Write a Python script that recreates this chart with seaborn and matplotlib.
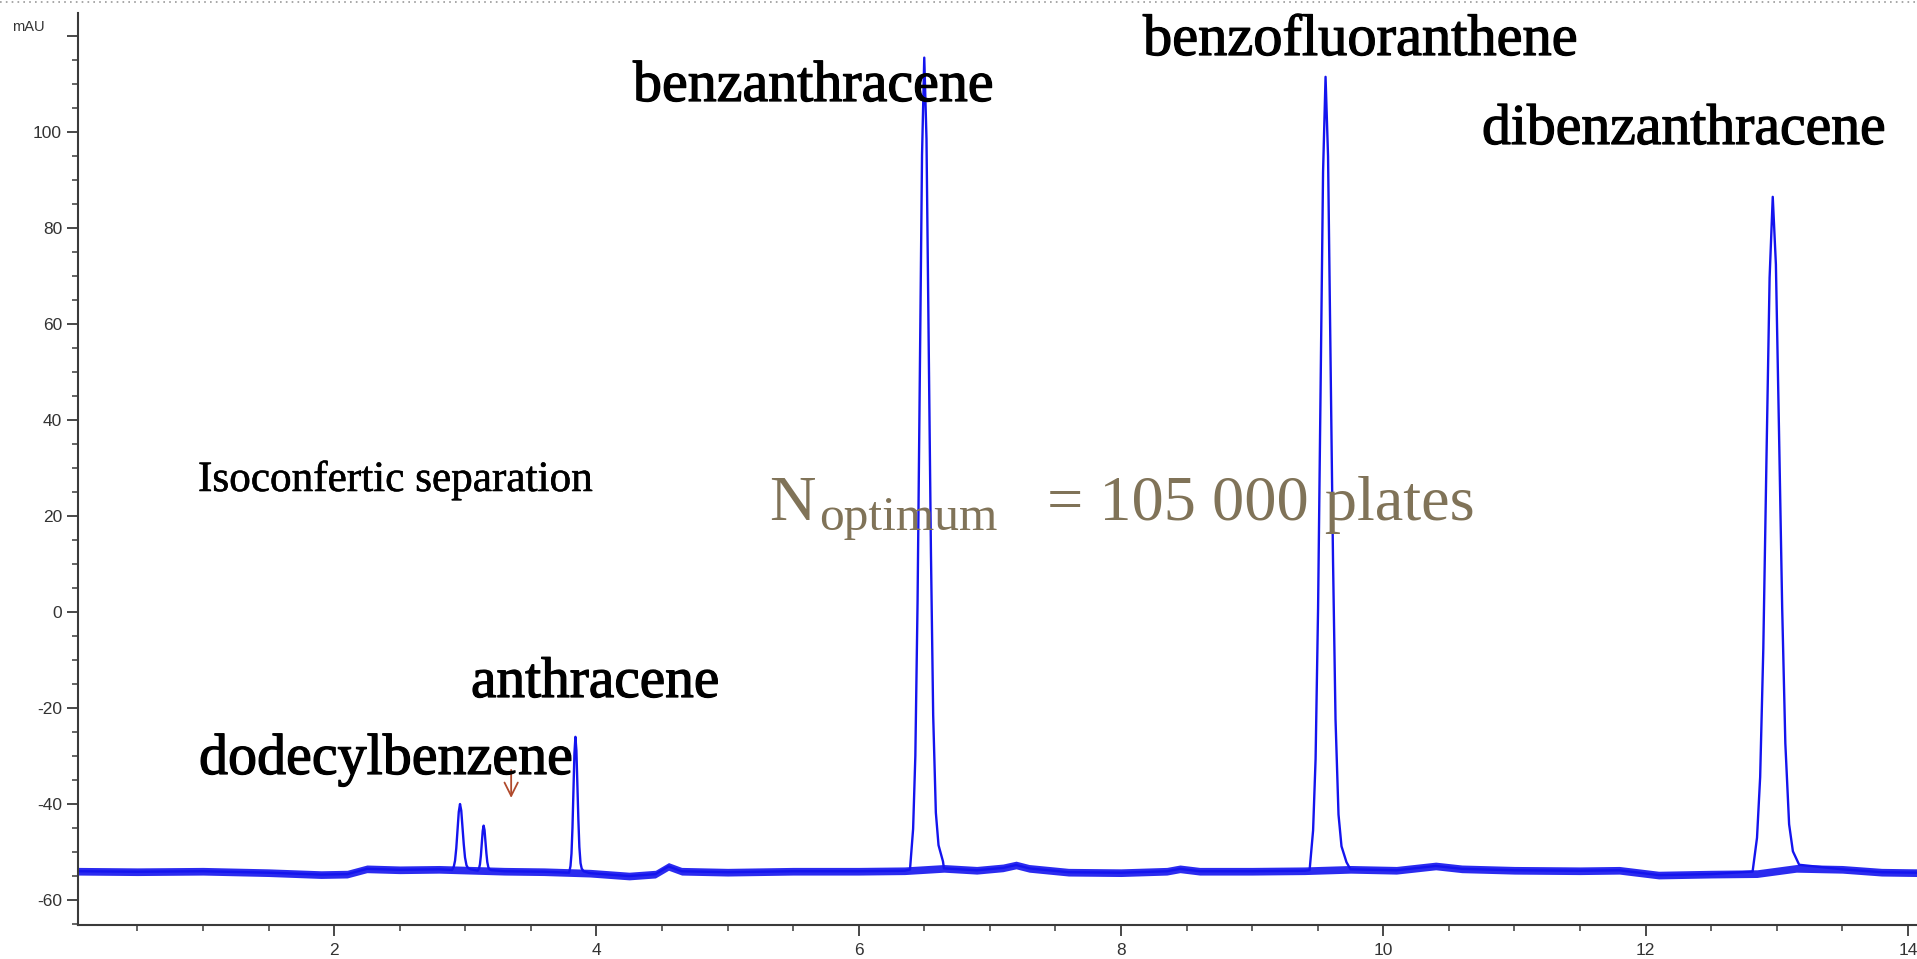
import numpy as np
import pandas as pd
import matplotlib
matplotlib.use("Agg")
import matplotlib.pyplot as plt
import matplotlib.patheffects as pe
from matplotlib.lines import Line2D
from matplotlib.ticker import MultipleLocator
import seaborn as sns

# ---- chromatogram data (retention time in min, signal in mAU) ----
peak_rt = [2.96, 3.14, 3.84, 6.50, 9.56, 12.97]
peak_apex = [-40.0, -44.5, -26.0, 115.5, 111.5, 86.5]
peak_sigma = [0.019, 0.014, 0.015, 0.034, 0.038, 0.048]

# tabulated peak profile (offset in sigma units, fraction of peak height), slight tailing
profile_offset = [-3.2, -2.5, -2.0, -1.5, -1.0, -0.5, 0.0, 0.5, 1.0, 1.5, 2.0, 2.6, 3.2, 4.2]
profile_frac = [0.0, 0.05, 0.14, 0.33, 0.61, 0.88, 1.0, 0.90, 0.65, 0.39, 0.19, 0.07, 0.03, 0.01]

# detector baseline
base_t = [0.05, 0.5, 1.0, 1.5, 1.9, 2.1, 2.25, 2.5, 2.8, 3.3, 3.6, 3.95, 4.25, 4.45,
          4.55, 4.65, 5.0, 5.5, 6.0, 6.35, 6.65, 6.9, 7.1, 7.2, 7.3, 7.6, 8.0, 8.35,
          8.45, 8.6, 9.0, 9.4, 9.75, 10.1, 10.4, 10.6, 11.0, 11.5, 11.8, 12.1, 12.5,
          12.85, 13.15, 13.5, 13.8, 14.07]
base_y = [-54.0, -54.1, -54.0, -54.3, -54.7, -54.6, -53.5, -53.7, -53.6, -54.0, -54.1,
          -54.4, -55.0, -54.6, -53.0, -54.0, -54.2, -54.0, -54.0, -53.9, -53.4, -53.8,
          -53.3, -52.7, -53.4, -54.2, -54.3, -54.0, -53.5, -54.0, -54.0, -53.9, -53.6,
          -53.8, -52.9, -53.5, -53.8, -53.9, -53.8, -54.8, -54.6, -54.5, -53.4, -53.6,
          -54.2, -54.3]

x_ticks = [2, 4, 6, 8, 10, 12, 14]
y_ticks = [-60, -40, -20, 0, 20, 40, 60, 80, 100, 120]
y_tick_labels = ["-60", "-40", "-20", "0", "20", "40", "60", "80", "100", ""]

# ---- assemble the trace ----
bt = np.array(base_t)
by = np.array(base_y)
keep = np.ones(len(bt), dtype=bool)
for rt, sg in zip(peak_rt, peak_sigma):
    keep &= ~((bt > rt - 3.3 * sg) & (bt < rt + 4.3 * sg))
t_all = list(bt[keep])
y_all = list(by[keep])
for rt, h, sg in zip(peak_rt, peak_apex, peak_sigma):
    b0 = float(np.interp(rt, bt, by))
    for off, fr in zip(profile_offset, profile_frac):
        t_all.append(rt + off * sg)
        y_all.append(b0 + fr * (h - b0))
order = np.argsort(t_all)
trace = pd.DataFrame({"time": np.array(t_all)[order], "signal": np.array(y_all)[order]})
baseline = pd.DataFrame({"time": bt, "signal": by})

# ---- figure ----
sns.set_theme(style="ticks")
plt.rcParams["font.family"] = ["Liberation Sans", "DejaVu Sans"]

W, H = 1917, 959
fig = plt.figure(figsize=(W / 100, H / 100), dpi=100)
ax = fig.add_axes([78 / W, 1 - 925 / H, 1 - 78 / W, (925 - 13) / H])

blue = "#1414ee"
ax.fill_between(baseline["time"], baseline["signal"] - 0.8, baseline["signal"] + 0.8,
                color=blue, lw=0, alpha=0.9)
sns.lineplot(data=trace, x="time", y="signal", sort=False, estimator=None,
             color=blue, lw=1.7, ax=ax)

ax.set_xlim(0.047, 14.07)
ax.set_ylim(-65.2, 124.8)
ax.set_xlabel("")
ax.set_ylabel("")
ax.set_xticks(x_ticks)
ax.set_yticks(y_ticks)
ax.set_yticklabels(y_tick_labels)
ax.xaxis.set_minor_locator(MultipleLocator(0.5))
ax.yaxis.set_minor_locator(MultipleLocator(5))
for s in ["top", "right"]:
    ax.spines[s].set_visible(False)
for s in ["left", "bottom"]:
    ax.spines[s].set_color("#3a3a3a")
    ax.spines[s].set_linewidth(1.5)
ax.tick_params(axis="both", which="major", length=8, width=1.3, color="#3a3a3a",
               labelsize=12.5, labelcolor="#333333", direction="out")
ax.tick_params(axis="both", which="minor", length=4.5, width=1.1, color="#3a3a3a",
               direction="out")
ax.tick_params(axis="x", which="major", pad=5)

fig.text(12 / W, 1 - 31 / H, "mAU", fontsize=10.5, color="#333333", ha="left", va="baseline")

# dotted frame line along the top edge
fig.add_artist(Line2D([0, 1], [1 - 2 / H, 1 - 2 / H], transform=fig.transFigure,
                      color="#9a9a9a", lw=1.2, ls=(0, (1, 2.5))))

# ---- annotations ----
fig.canvas.draw()
renderer = fig.canvas.get_renderer()


def fitted_text(s, x, baseline_y, width, color="black", family="Liberation Serif",
                size=None, ha="left", stroke=0.9):
    txt = fig.text(x / W, 1 - baseline_y / H, s, fontsize=40, color=color,
                   family=family, ha=ha, va="baseline")
    if size is None:
        w = txt.get_window_extent(renderer).width
        size = 40 * width / w
    txt.set_fontsize(size)
    if stroke:
        txt.set_path_effects([pe.withStroke(linewidth=stroke, foreground=color)])
    return size


fitted_text("benzanthracene", 633, 101, 360)
fitted_text("benzofluoranthene", 1143, 55, 434)
fitted_text("dibenzanthracene", 1482, 144, 403)
fitted_text("anthracene", 471, 697, 248)
fitted_text("dodecylbenzene", 199, 774, 373)
fitted_text("Isoconfertic separation", 198, 491, 394, stroke=0.4)

tan = "#807358"
big = fitted_text("= 105 000 plates", 1047, 520, 426, color=tan, stroke=0)
fitted_text("N", 816, 520, 0, color=tan, size=big, ha="right", stroke=0)
fitted_text("optimum", 819, 530, 178, color=tan, stroke=0)

ax.annotate("", xy=(3.35, -39.3), xytext=(3.35, -32.3),
            arrowprops=dict(arrowstyle="->,head_length=0.8,head_width=0.4",
                            color="#b04a2c", lw=1.3))

fig.savefig("out.png", dpi=100)
